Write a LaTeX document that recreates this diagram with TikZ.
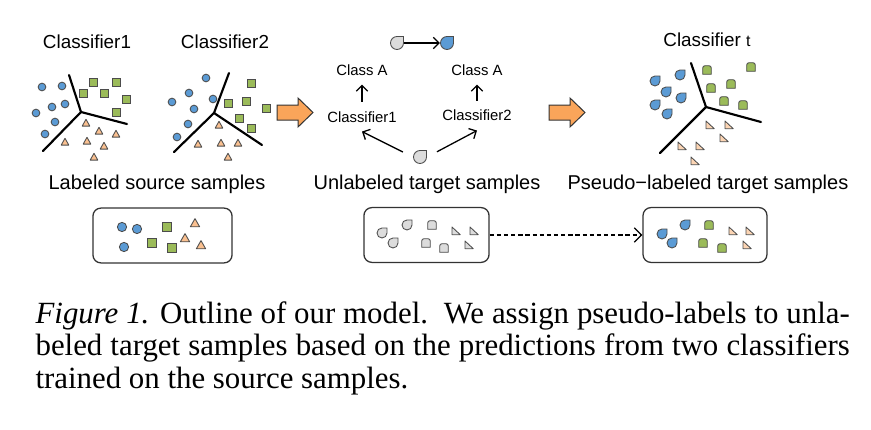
\documentclass[tikz,border=0pt]{standalone}
\usepackage{fontspec}
\setmainfont{Liberation Serif}
\setsansfont{Liberation Sans}
\usetikzlibrary{arrows.meta, positioning}

\definecolor{blu}{HTML}{5B9BD5}
\definecolor{grn}{HTML}{9BBB59}
\definecolor{pch}{HTML}{FAC090}
\definecolor{lpch}{HTML}{FCD5B4}
\definecolor{gry}{HTML}{DCDCDC}
\definecolor{org}{HTML}{FAA55A}

\begin{document}
\begin{tikzpicture}[x=0.35pt, y=-0.35pt,
  mk/.style={draw=black!70, line width=0.3pt},
  bnd/.style={line width=0.75pt, line cap=round},
  lbl/.style={font=\sffamily\fontsize{7}{8}\selectfont, inner sep=0pt, anchor=base},
  hd/.style={font=\sffamily\fontsize{6.6}{8}\selectfont, inner sep=0pt, anchor=base},
  sm/.style={font=\sffamily\fontsize{5.2}{6}\selectfont, inner sep=1pt, minimum height=10pt, anchor=base},
  arr/.style={-{Straight Barb[length=2pt]}, line width=0.45pt},
  pool/.style={draw=black!80, rounded corners=2.8pt, line width=0.45pt, minimum width=#1, minimum height=19.2pt, inner sep=0pt},
  qmark/.style={inner sep=0pt, minimum size=4.6pt},
  captext/.style={font=\fontsize{10.8}{11.4}\selectfont, text width=285pt, align=justify, inner sep=0pt},
  dot/.pic={\draw[mk, fill=#1] (0,0) circle[radius=1.35pt];},
  sq/.pic={\draw[mk, fill=#1] (-1.4pt,-1.4pt) rectangle (1.4pt,1.4pt);},
  tri/.pic={\draw[mk, fill=#1, line join=round] (-1.35pt,-1.1pt) -- (1.35pt,-1.1pt) -- (0,1.3pt) -- cycle;},
  drop/.pic={\draw[mk, fill=#1] (0,1.75pt) -- (1.75pt,1.75pt) -- (1.75pt,0) arc[start angle=0, end angle=-270, radius=1.75pt] -- cycle;},
  tomb/.pic={\draw[mk, fill=#1] (-1.5pt,-1.5pt) -- (-1.5pt,0.7pt) arc[start angle=180, end angle=90, radius=0.8pt] -- (0.7pt,1.5pt) arc[start angle=90, end angle=0, radius=0.8pt] -- (1.5pt,-1.5pt) -- cycle;},
  rtri/.pic={\draw[mk, fill=#1, line join=round] (-1.4pt,1.4pt) -- (1.5pt,-1.3pt) -- (-1.4pt,-1.3pt) -- cycle;},
  bigarrow/.pic={\draw[draw=black!80, line width=0.35pt, fill=org] (-18,-7.5) -- (3,-7.5) -- (3,-14.5) -- (18,0) -- (3,14.5) -- (3,7.5) -- (-18,7.5) -- cycle;}
]
  \useasboundingbox (0,0) rectangle (871,430);

  \node[hd](cf1) at (87,48) {Classifier1};
  \node[hd](cf2) at (225,48) {Classifier2};
  \node[hd](cft) at (707,47) {Classifier {\fontsize{5.6}{6}\selectfont t}};
  \node[lbl](src) at (157,189) {Labeled source samples};
  \node[lbl](tgt) at (427,189) {Unlabeled target samples};
  \node[lbl](psl) at (708,189) {Pseudo−labeled target samples};

  \coordinate (c1) at (81,112);
  \draw[bnd] (69,75) -- (c1) -- (127,124) (c1) -- (43,151);
  \foreach \p in {(42,87),(62,86),(52,107),(65,104),(36,113),(55,122),(45,134)} \pic at \p {dot=blu};
  \foreach \p in {(93,82),(116,82),(83,93),(104,93),(126,99),(116,112)} \pic at \p {sq=grn};
  \foreach \p in {(86,123),(99,131),(116,134),(65,142),(87,141),(104,146),(94,157)} \pic at \p {tri=pch};

  \coordinate (c2) at (214,113);
  \draw[bnd] (229,73) -- (c2) -- (262,145) (c2) -- (174,152);
  \foreach \p in {(206,78),(189,93),(172,102),(213,99),(194,109),(188,124),(177,137)} \pic at \p {dot=blu};
  \foreach \p in {(251,83),(228,103),(246,101),(266,108),(239,118),(251,128)} \pic at \p {sq=grn};
  \foreach \p in {(219,125),(198,144),(221,143),(238,143),(228,157)} \pic at \p {tri=pch};

  \coordinate (c3) at (706,107);
  \draw[bnd] (691,63) -- (c3) -- (761,122) (c3) -- (660,153);
  \foreach \p in {(655,81),(680,75),(666,92),(681,98),(655,105),(667,114)} \pic at \p {drop=blu};
  \foreach \p in {(707,70),(751,67),(711,88),(731,84),(724,101),(743,105)} \pic at \p {tomb=grn};
  \foreach \p in {(710,125),(729,125),(724,138),(682,146),(700,146),(695,161)} \pic at \p {rtri=lpch};

  \pic at (295,112.5) {bigarrow};
  \pic at (567,112.5) {bigarrow};

  \node[qmark](qtop) at (397,43) {};
  \pic[scale=1.3] at (qtop) {drop=gry};
  \node[qmark](ptop) at (447,43) {};
  \pic[scale=1.3] at (ptop) {drop=blu};
  \draw[arr] (qtop) -- (ptop);
  \node[sm](ca1) at (362,75) {Class A};
  \node[sm](ca2) at (477,75) {Class A};
  \node[sm](m1) at (362,122) {Classifier1};
  \node[sm](m2) at (477,121) {Classifier2};
  \draw[arr] (m1) -- (ca1);
  \draw[arr] (m2) -- (ca2);
  \node[qmark](qbot) at (420,157) {};
  \pic[scale=1.3] at (qbot) {drop=gry};
  \draw[arr, shorten <=3.9pt] (qbot.west) -- (m1.south);
  \draw[arr, shorten <=3.9pt] (qbot.east) -- (m2.south);

  \node[pool=48.7pt](srcpool) at (162.5,235.5) {};
  \foreach \p in {(122,227),(137,229),(124,247)} \pic[scale=1.2] at \p {dot=blu};
  \foreach \p in {(167,227),(152,243),(172,248)} \pic[scale=1.2] at \p {sq=grn};
  \foreach \p in {(195,223),(185,238),(201,245)} \pic[scale=1.2] at \p {tri=pch};

  \node[pool=43.8pt](tgtpool) at (426.5,235) {};
  \foreach \p in {(382,233),(407,225),(393,243)} \pic at \p {drop=gry};
  \foreach \p in {(432,225),(426,243),(444,248)} \pic at \p {tomb=gry};
  \foreach \p in {(456,231),(474,231),(469,245)} \pic at \p {rtri=gry};

  \node[pool=43.4pt](pslpool) at (705,235) {};
  \foreach \p in {(662,234),(685,225),(672,243)} \pic at \p {drop=blu};
  \foreach \p in {(709,225),(703,243),(722,248)} \pic at \p {tomb=grn};
  \foreach \p in {(733,231),(750,231),(747,245)} \pic at \p {rtri=lpch};
  \draw[arr, dashed, dash pattern=on 1.5pt off 1pt, -{Straight Barb[length=2.5pt]}] (tgtpool) -- (pslpool);

  \node[captext, anchor=base west](capt) at (35,323) {\textit{Figure 1.} Outline of our model.\ \ We assign pseudo-labels to unla-\linebreak beled target samples based on the predictions from two classifiers\linebreak trained on the source samples.};
\end{tikzpicture}
\end{document}
